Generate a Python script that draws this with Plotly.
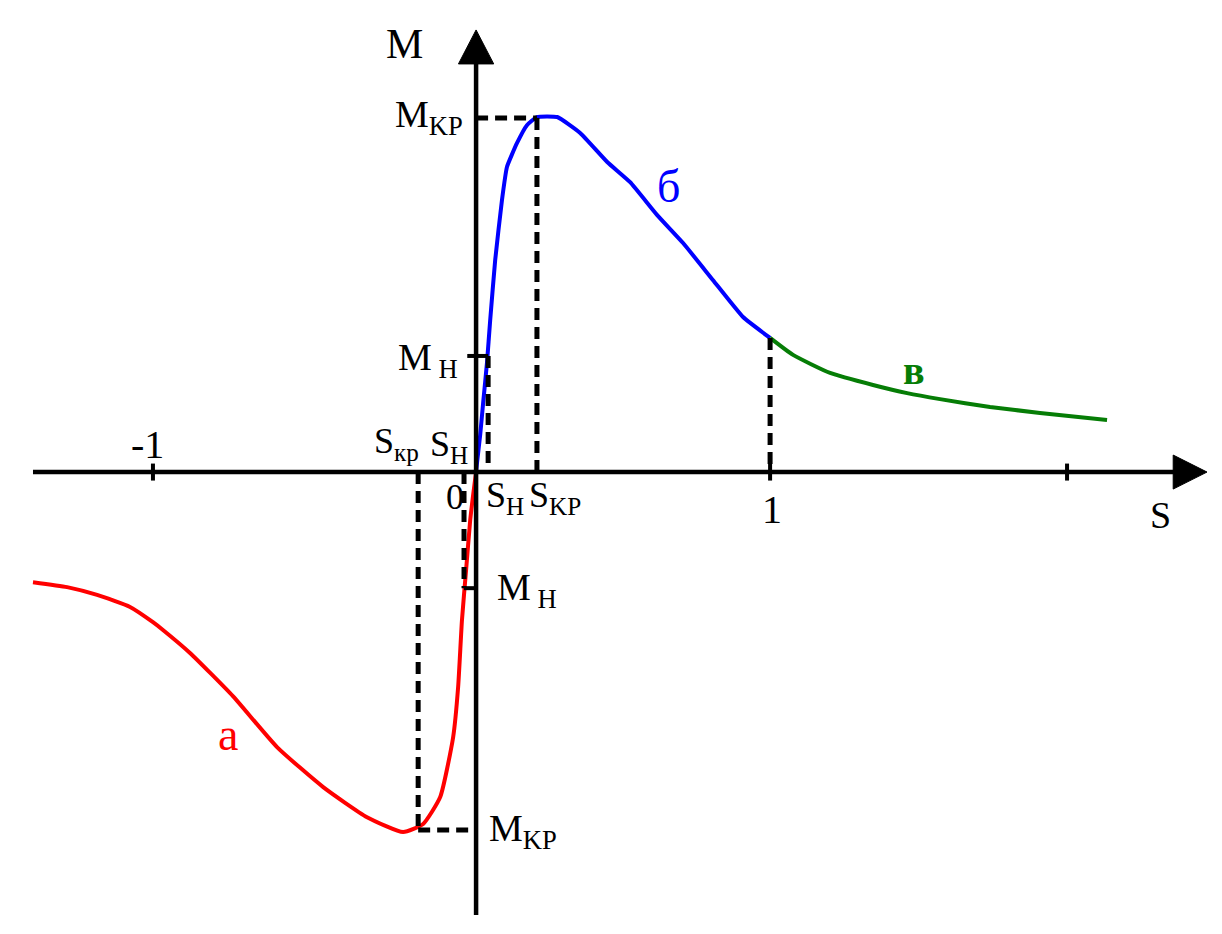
import plotly.graph_objects as go

# mechanical characteristic of the induction machine, S vs M
# a - brake (generator) branch, б - motor branch, в - counter-current branch
s_a = [-1.507, -1.391, -1.289, -1.177, -1.099, -1.065, -0.973, -0.827, -0.677, -0.520,
       -0.371, -0.248, -0.180, -0.122, -0.078, -0.061, -0.048, -0.034, -0.020, -0.010, 0.0]
m_a = [-0.311, -0.325, -0.347, -0.381, -0.424, -0.446, -0.511, -0.633, -0.777, -0.890,
       -0.975, -1.017, -0.994, -0.918, -0.749, -0.607, -0.418, -0.277, -0.136, -0.065, 0.0]

s_b = [0.0, 0.003, 0.014, 0.024, 0.037, 0.048, 0.065, 0.088, 0.105, 0.139, 0.173, 0.207,
       0.276, 0.354, 0.446, 0.524, 0.616, 0.704, 0.806, 0.908, 1.0]
m_b = [0.0, 0.025, 0.105, 0.195, 0.308, 0.429, 0.599, 0.768, 0.862, 0.929, 0.980, 1.003,
       1.003, 0.958, 0.876, 0.819, 0.726, 0.647, 0.542, 0.438, 0.379]

s_c = [1.0, 1.078, 1.204, 1.350, 1.466, 1.578, 1.748, 1.918, 2.146]
m_c = [0.379, 0.331, 0.280, 0.246, 0.223, 0.206, 0.184, 0.167, 0.147]

# characteristic points
s_kr, m_kr = 0.207, 1.0
s_n, m_n = 0.041, 0.328
s_kr_neg, m_kr_neg = -0.197, -1.011
s_n_neg, m_n_neg = -0.041, -0.328

# ticks on S axis (the -1 tick is drawn a bit further out in the original)
tick_s = [-1.099, 1.0, 2.010]

# page has an 8px body margin, so the figure is a bit smaller than the window
x_range = [-1.592, 2.537]
y_range = [-1.305, 1.311]

FONT = "Liberation Serif, Times New Roman, serif"

fig = go.Figure()
fig.add_trace(go.Scatter(x=s_a, y=m_a, mode="lines",
                         line=dict(color="#ff0000", width=4, shape="spline", smoothing=0.5)))
fig.add_trace(go.Scatter(x=s_b, y=m_b, mode="lines",
                         line=dict(color="#0000ff", width=4, shape="spline", smoothing=0.4)))
fig.add_trace(go.Scatter(x=s_c, y=m_c, mode="lines",
                         line=dict(color="#067d06", width=4, shape="spline", smoothing=0.5)))

shapes = []
dash = dict(color="black", width=5, dash="12px,7px")
# dashed guide lines
shapes.append(dict(type="line", x0=0, x1=s_kr, y0=m_kr, y1=m_kr, line=dash))
shapes.append(dict(type="line", x0=s_kr, x1=s_kr, y0=m_kr, y1=0, line=dash))
shapes.append(dict(type="line", x0=s_n, x1=s_n, y0=m_n, y1=0, line=dash))
shapes.append(dict(type="line", x0=1.0, x1=1.0, y0=m_c[0], y1=0, line=dash))
shapes.append(dict(type="line", x0=s_kr_neg, x1=s_kr_neg, y0=0, y1=m_kr_neg, line=dash))
shapes.append(dict(type="line", x0=s_kr_neg, x1=0, y0=m_kr_neg, y1=m_kr_neg, line=dash))
shapes.append(dict(type="line", x0=s_n_neg, x1=s_n_neg, y0=0, y1=m_n_neg, line=dash))

axis = dict(color="black", width=4.5)
# axes
shapes.append(dict(type="line", x0=-1.507, x1=2.40, y0=0, y1=0, line=axis))
shapes.append(dict(type="line", x0=0, x1=0, y0=-1.251, y1=1.18, line=axis))
shapes.append(dict(type="path", path="M 2.371 0.048 L 2.486 0 L 2.371 -0.048 Z",
                   fillcolor="black", line=dict(color="black", width=1)))
shapes.append(dict(type="path", path="M -0.06 1.153 L 0 1.249 L 0.06 1.153 Z",
                   fillcolor="black", line=dict(color="black", width=1)))
# ticks
for t in tick_s:
    shapes.append(dict(type="line", x0=t, x1=t, y0=-0.024, y1=0.024, line=dict(color="black", width=4)))
shapes.append(dict(type="line", x0=-0.03, x1=s_n, y0=m_n, y1=m_n, line=dict(color="black", width=4)))
shapes.append(dict(type="line", x0=s_n_neg, x1=0, y0=m_n_neg, y1=m_n_neg, line=dict(color="black", width=4)))

fig.update_layout(shapes=shapes)


def label(x, y, text, size=38, color="black", xanchor="center", yanchor="middle", bold=False):
    fig.add_annotation(x=x, y=y, text=text, showarrow=False, xanchor=xanchor, yanchor=yanchor,
                       font=dict(family=FONT, size=size, color=color, weight="bold" if bold else "normal"))


label(-0.245, 1.209, "M", size=42)
label(-0.037, 1.003, "M<sub>KP</sub>", xanchor="right")
label(-0.054, 0.316, "M<sub> H</sub>", xanchor="right")
label(-0.269, 0.082, "S<sub>кр</sub>", size=36)
label(-0.092, 0.073, "S<sub>H</sub>", size=36)
label(-0.071, -0.071, "0", size=36)
label(0.099, -0.073, "S<sub>H</sub>", size=36)
label(0.269, -0.073, "S<sub>KP</sub>", size=36)
label(0.065, -0.333, "M<sub> H</sub>", xanchor="left")
label(0.037, -1.014, "M<sub>KP</sub>", xanchor="left")
label(-1.119, 0.079, "-1", size=40)
label(1.007, -0.105, "1", size=40)
label(2.327, -0.121, "S", size=38)
label(-0.844, -0.740, "a", size=46, color="#ff0000")
label(0.656, 0.808, "б", size=46, color="#0000ff")
label(1.490, 0.288, "в", size=40, color="#067d06", bold=True)

fig.update_layout(
    width=1214,
    height=926,
    margin=dict(l=0, r=0, t=0, b=0),
    showlegend=False,
    plot_bgcolor="white",
    paper_bgcolor="white",
    xaxis=dict(range=x_range, visible=False),
    yaxis=dict(range=y_range, visible=False),
)

fig.write_html("out.html")
